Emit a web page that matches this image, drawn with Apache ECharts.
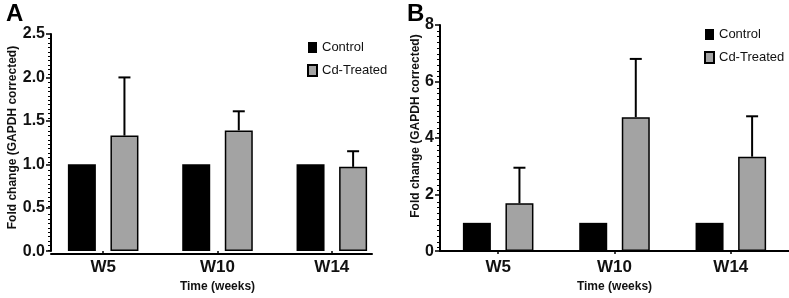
<!DOCTYPE html>
<html>
<head>
<meta charset="utf-8">
<script src="https://cdn.jsdelivr.net/npm/echarts@6/dist/echarts.min.js"></script>
<style>
  html, body { margin: 0; padding: 0; background: #fff; }
  #chart { width: 789px; height: 298px; }
</style>
</head>
<body>
<div id="chart"></div>
<script>
const weeks = ['W5', 'W10', 'W14'];
const seriesNames = ['Control', 'Cd-Treated'];

// panel A
const controlA = [1, 1, 1];
const treatedA = [1.33, 1.39, 0.97];
const treatedSdA = [0.67, 0.22, 0.18];
const ticksA = [0, 0.5, 1.0, 1.5, 2.0, 2.5];

// panel B
const controlB = [1, 1, 1];
const treatedB = [1.69, 4.74, 3.34];
const treatedSdB = [1.26, 2.06, 1.43];
const ticksB = [0, 2, 4, 6, 8];

const minorSteps = 10;

const font = 'Liberation Sans, Arial, sans-serif';
const gray = '#a3a3a3';
const barWidth = 28;
const barGap = 0.52;

const errorBar = (mean, sd, xi, yi) => ({
  type: 'custom',
  xAxisIndex: xi,
  yAxisIndex: yi,
  z: 5,
  silent: true,
  data: mean.map((m, i) => [i, m, m + sd[i]]),
  renderItem: (params, api) => {
    const off = (barWidth * (1 + barGap)) / 2;
    const base = api.coord([api.value(0), api.value(1)]);
    const top = api.coord([api.value(0), api.value(2)]);
    const x = base[0] + off;
    const st = { stroke: '#000', lineWidth: 2 };
    return {
      type: 'group',
      children: [
        { type: 'line', shape: { x1: x, y1: base[1], x2: x, y2: top[1] }, style: st },
        { type: 'line', shape: { x1: x - 6, y1: top[1], x2: x + 6, y2: top[1] }, style: st },
      ],
    };
  },
});

// minor ticks between the major ticks, placed through the y scale
const minorTicks = (ticks, xi, yi) => {
  const step = (ticks[1] - ticks[0]) / minorSteps;
  const vals = [];
  for (let i = 1; i < (ticks.length - 1) * minorSteps; i++) {
    if (i % minorSteps !== 0) vals.push([0, ticks[0] + i * step]);
  }
  return {
    type: 'custom',
    xAxisIndex: xi,
    yAxisIndex: yi,
    silent: true,
    clip: false,
    z: 6,
    data: vals,
    renderItem: (params, api) => {
      const p = api.coord([api.value(0), api.value(1)]);
      const y = Math.round(p[1]) + 0.5;
      return {
        type: 'line',
        shape: { x1: p[0] - 3, y1: y, x2: p[0], y2: y },
        style: { stroke: '#000', lineWidth: 1 },
      };
    },
  };
};

const catAxis = (gi, showLine) => ({
  type: 'category',
  gridIndex: gi,
  data: weeks,
  name: 'Time (weeks)',
  nameLocation: 'middle',
  nameGap: 29,
  nameTextStyle: { fontFamily: font, fontWeight: 'bold', fontSize: 12, color: '#111' },
  axisLine: { show: showLine, lineStyle: { color: '#000', width: 2 } },
  axisTick: { show: true, alignWithLabel: true, length: 3, lineStyle: { color: '#000', width: 1.5 } },
  axisLabel: { fontFamily: font, fontWeight: 'bold', fontSize: 17, color: '#111', margin: 8 },
});

// bare x axis, only used to carry a line or nothing
const plainX = (gi, showLine) => ({
  type: 'value',
  gridIndex: gi,
  min: 0,
  max: 1,
  axisLine: { show: showLine, lineStyle: { color: '#000', width: 2 } },
  axisTick: { show: false },
  axisLabel: { show: false },
  splitLine: { show: false },
});

const valAxis = (gi, ticks, digits, offset, nameGap, shiftUp) => ({
  type: 'value',
  gridIndex: gi,
  min: ticks[0],
  max: ticks[ticks.length - 1],
  interval: ticks[1] - ticks[0],
  offset: offset,
  name: 'Fold change (GAPDH corrected)',
  nameLocation: 'middle',
  nameGap: nameGap,
  nameTextStyle: {
    fontFamily: font,
    fontWeight: 'bold',
    fontSize: 12,
    color: '#111',
    padding: [0, 0, 0, shiftUp * 2],
  },
  axisLine: { show: true, lineStyle: { color: '#000', width: 2 } },
  axisTick: { show: true, length: 5, lineStyle: { color: '#000', width: 1.5 } },
  splitLine: { show: false },
  axisLabel: {
    fontFamily: font,
    fontWeight: 'bold',
    fontSize: 16,
    color: '#111',
    margin: 6,
    formatter: (v) => v.toFixed(digits),
  },
});

const plainY = (gi, ticks) => ({
  type: 'value',
  gridIndex: gi,
  min: ticks[0],
  max: ticks[ticks.length - 1],
  show: false,
});

const bars = (data, name, color, border, xi, yi) => ({
  type: 'bar',
  name: name,
  xAxisIndex: xi,
  yAxisIndex: yi,
  data: data,
  barWidth: barWidth,
  barGap: barGap * 100 + '%',
  itemStyle: { color: color, borderColor: '#000', borderWidth: border },
});

const legend = (left, top) => ({
  data: seriesNames,
  orient: 'vertical',
  left: left,
  top: top,
  icon: 'rect',
  itemWidth: 9,
  itemHeight: 11,
  itemGap: 10,
  textStyle: { fontFamily: font, fontSize: 13, color: '#111' },
});

const chart = echarts.init(document.getElementById('chart'));
chart.setOption({
  animation: false,
  title: [
    { text: 'A', left: 1, top: -3, textStyle: { fontFamily: font, fontWeight: 'bold', fontSize: 24, color: '#000' } },
    { text: 'B', left: 402, top: -3, textStyle: { fontFamily: font, fontWeight: 'bold', fontSize: 24, color: '#000' } },
  ],
  legend: [legend(302, 36), legend(699, 23)],
  grid: [
    { left: 46, width: 343, top: 34, bottom: 44 },
    { left: 51, width: 321, top: 34, bottom: 44 },
    { left: 440, width: 354, top: 25, bottom: 45 },
    { left: 440, width: 354, top: 25, bottom: 45 },
  ],
  xAxis: [
    catAxis(0, false),
    plainX(1, true),
    catAxis(2, true),
    plainX(3, false),
  ],
  yAxis: [
    valAxis(0, ticksA, 1, -5, 29, 5),
    plainY(1, ticksA),
    valAxis(2, ticksB, 0, 0, 10, 12),
    plainY(3, ticksB),
  ],
  series: [
    bars(controlA, seriesNames[0], '#000', 0, 0, 0),
    bars(treatedA, seriesNames[1], gray, 1.5, 0, 0),
    errorBar(treatedA, treatedSdA, 0, 0),
    minorTicks(ticksA, 1, 1),
    bars(controlB, seriesNames[0], '#000', 0, 2, 2),
    bars(treatedB, seriesNames[1], gray, 1.5, 2, 2),
    errorBar(treatedB, treatedSdB, 2, 2),
    minorTicks(ticksB, 3, 3),
  ],
});
</script>
</body>
</html>
